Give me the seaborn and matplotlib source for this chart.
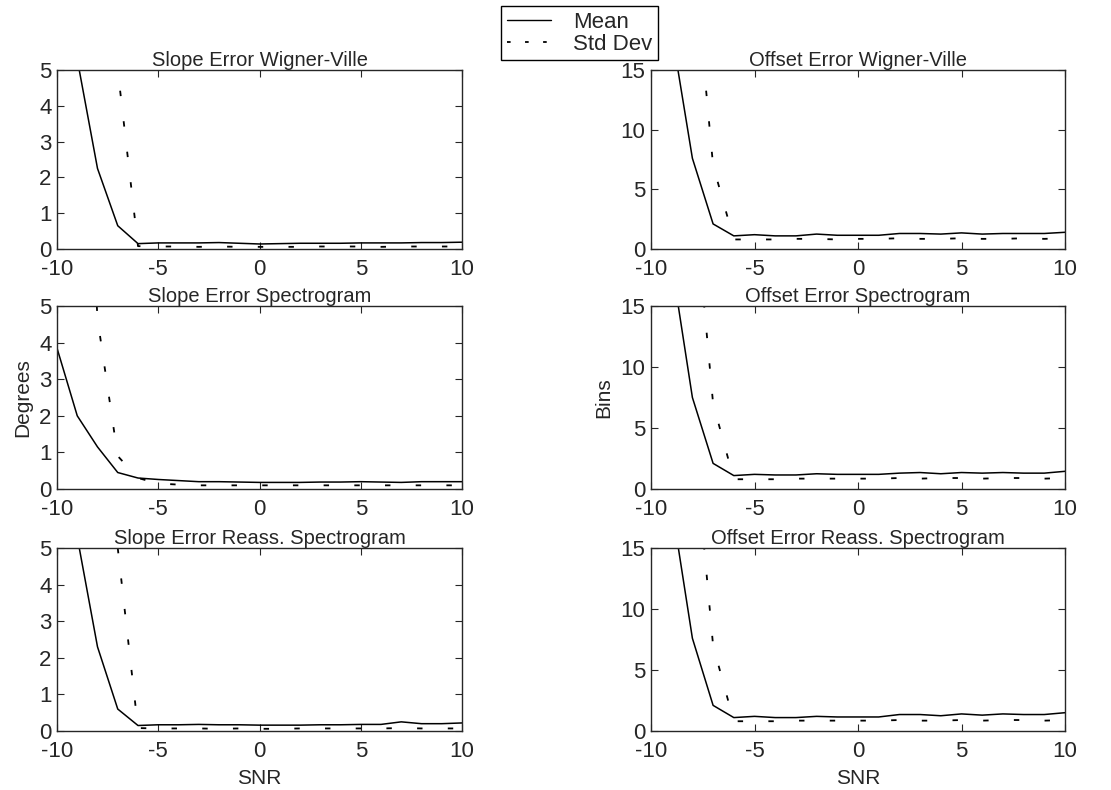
import matplotlib
matplotlib.use("Agg")
import matplotlib.pyplot as plt
import seaborn as sns
from matplotlib.lines import Line2D

sns.set_style("ticks")
plt.rcParams['font.family'] = ['Liberation Sans', 'DejaVu Sans']
plt.rcParams['axes.unicode_minus'] = False
plt.rcParams['xtick.direction'] = 'in'
plt.rcParams['ytick.direction'] = 'in'
plt.rcParams['xtick.top'] = True
plt.rcParams['ytick.right'] = True

# SNR axis (dB)
snr = list(range(-10, 11))

# slope error (degrees)
slope_wv_mean = [9.0, 5.3, 2.25, 0.65, 0.15, 0.17, 0.17, 0.17, 0.18, 0.16, 0.14,
                 0.15, 0.16, 0.16, 0.16, 0.17, 0.17, 0.17, 0.18, 0.18, 0.19]
slope_wv_std = [20.0, 16.0, 12.0, 5.0, 0.08, 0.07, 0.07, 0.06, 0.07, 0.06, 0.06,
                0.06, 0.06, 0.07, 0.07, 0.07, 0.06, 0.07, 0.07, 0.07, 0.07]
slope_sp_mean = [3.85, 2.0, 1.15, 0.45, 0.3, 0.26, 0.23, 0.2, 0.2, 0.19, 0.18,
                 0.18, 0.18, 0.19, 0.19, 0.2, 0.19, 0.18, 0.2, 0.2, 0.2]
slope_sp_std = [20.0, 15.0, 4.65, 0.9, 0.3, 0.15, 0.12, 0.1, 0.1, 0.1, 0.1,
                0.1, 0.1, 0.1, 0.1, 0.1, 0.1, 0.1, 0.1, 0.1, 0.1]
slope_ra_mean = [9.0, 5.3, 2.3, 0.6, 0.15, 0.17, 0.17, 0.18, 0.17, 0.17, 0.16,
                 0.16, 0.16, 0.17, 0.17, 0.18, 0.18, 0.25, 0.2, 0.2, 0.22]
slope_ra_std = [20.0, 16.0, 12.0, 5.0, 0.08, 0.07, 0.07, 0.07, 0.06, 0.07, 0.06,
                0.06, 0.07, 0.07, 0.07, 0.07, 0.07, 0.08, 0.07, 0.07, 0.07]

# offset error (bins)
offset_wv_mean = [30.0, 18.2, 7.6, 2.1, 1.1, 1.2, 1.1, 1.1, 1.25, 1.15, 1.15,
                  1.15, 1.3, 1.3, 1.25, 1.35, 1.25, 1.3, 1.3, 1.3, 1.4]
offset_wv_std = [40.0, 35.0, 25.6, 7.0, 0.8, 0.8, 0.8, 0.85, 0.85, 0.8, 0.85,
                 0.85, 0.9, 0.85, 0.85, 0.9, 0.85, 0.85, 0.9, 0.85, 0.9]
offset_sp_mean = [30.0, 18.5, 7.5, 2.1, 1.1, 1.2, 1.15, 1.15, 1.25, 1.2, 1.2,
                  1.2, 1.3, 1.35, 1.25, 1.35, 1.3, 1.35, 1.3, 1.3, 1.45]
offset_sp_std = [40.0, 35.0, 25.6, 7.0, 0.8, 0.8, 0.8, 0.85, 0.85, 0.85, 0.85,
                 0.85, 0.9, 0.85, 0.9, 0.9, 0.85, 0.9, 0.9, 0.85, 0.9]
offset_ra_mean = [30.0, 18.5, 7.6, 2.1, 1.1, 1.2, 1.1, 1.1, 1.2, 1.15, 1.15,
                  1.15, 1.35, 1.35, 1.25, 1.4, 1.3, 1.4, 1.35, 1.35, 1.5]
offset_ra_std = [40.0, 35.0, 25.6, 7.0, 0.8, 0.8, 0.8, 0.85, 0.85, 0.85, 0.85,
                 0.85, 0.9, 0.85, 0.85, 0.9, 0.85, 0.9, 0.9, 0.85, 0.9]

titles = ["Slope Error Wigner-Ville", "Offset Error Wigner-Ville",
          "Slope Error Spectrogram", "Offset Error Spectrogram",
          "Slope Error Reass. Spectrogram", "Offset Error Reass. Spectrogram"]

panels = [
    (slope_wv_mean, slope_wv_std), (offset_wv_mean, offset_wv_std),
    (slope_sp_mean, slope_sp_std), (offset_sp_mean, offset_sp_std),
    (slope_ra_mean, slope_ra_std), (offset_ra_mean, offset_ra_std),
]

W, H = 1111, 790
fig = plt.figure(figsize=(W / 100, H / 100), dpi=100)

# axes boxes in pixels (left, top, right, bottom)
col_x = [(57, 462), (651, 1065)]
row_y = [(70, 249), (306, 489), (548, 731)]

dot_style = (0, (3, 14))

for i, (mean, std) in enumerate(panels):
    r, c = divmod(i, 2)
    x0, x1 = col_x[c]
    y0, y1 = row_y[r]
    ax = fig.add_axes([x0 / W, 1 - y1 / H, (x1 - x0) / W, (y1 - y0) / H])

    sns.lineplot(x=snr, y=mean, ax=ax, color='k', lw=1.1)
    sns.lineplot(x=snr, y=std, ax=ax, color='k', lw=1.3, linestyle=dot_style)

    ax.set_xlim(-10, 10)
    ax.set_xticks([-10, -5, 0, 5, 10])
    if c == 0:
        ax.set_ylim(0, 5)
        ax.set_yticks([0, 1, 2, 3, 4, 5])
    else:
        ax.set_ylim(0, 15)
        ax.set_yticks([0, 5, 10, 15])
    ax.tick_params(labelsize=16, length=5, width=0.8)
    ax.tick_params(axis='x', pad=7)
    ax.tick_params(axis='y', pad=4)
    for sp in ax.spines.values():
        sp.set_linewidth(1.0)
    ax.set_title(titles[i], fontsize=14.5, pad=3)

    if r == 1:
        ax.set_ylabel("Degrees" if c == 0 else "Bins", fontsize=15, labelpad=5)
    if r == 2:
        ax.set_xlabel("SNR", fontsize=15, labelpad=5)

handles = [Line2D([], [], color='k', lw=1.0),
           Line2D([], [], color='k', lw=1.3, linestyle=(0, (2, 8)))]
fig.legend(handles, ["Mean", "Std Dev"], loc='upper left',
           bbox_to_anchor=(501 / W, 1 - 6 / H), fontsize=16, frameon=True,
           fancybox=False, edgecolor='k', framealpha=1, borderpad=0.25,
           handlelength=2.0, labelspacing=0.05, handletextpad=1.0,
           borderaxespad=0)

fig.savefig("out.png", dpi=100)
